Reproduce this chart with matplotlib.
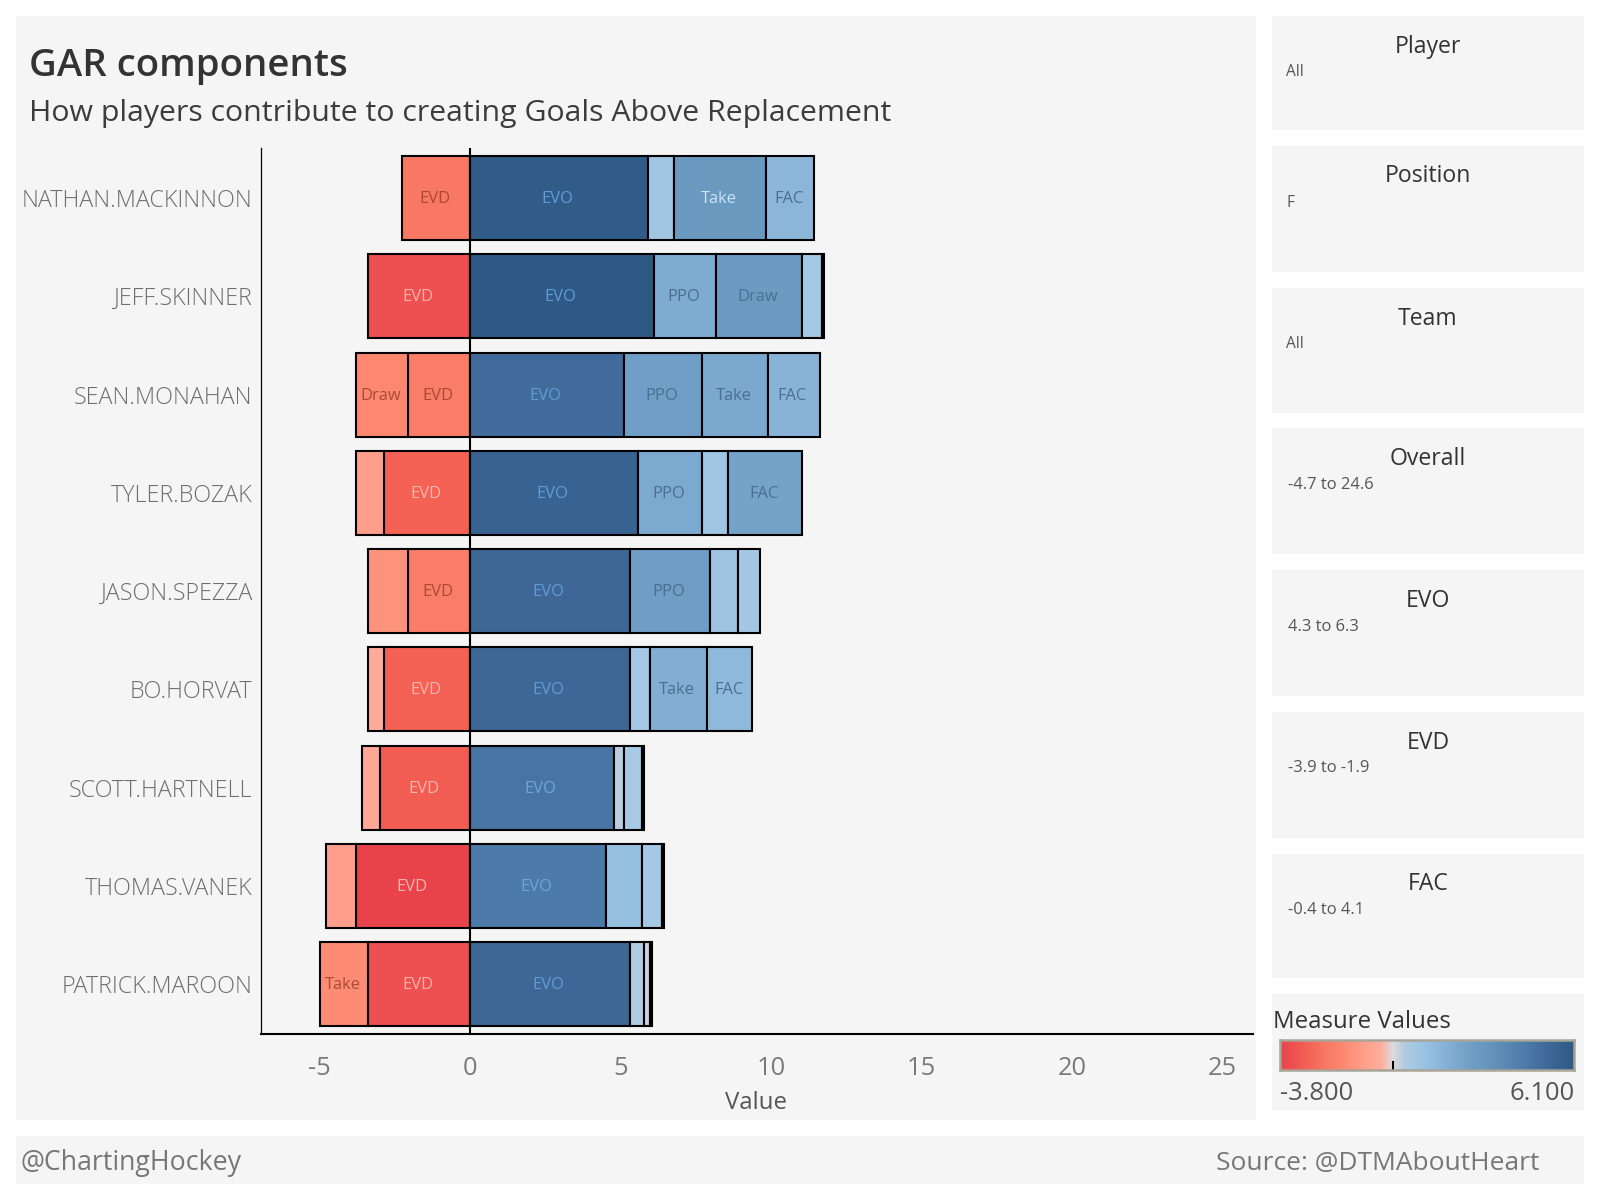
import numpy as np
import matplotlib
matplotlib.use("Agg")
import matplotlib.pyplot as plt
from matplotlib.colors import LinearSegmentedColormap, Normalize
from matplotlib.patches import Rectangle

# ======================
# DATA
# ======================
players = ["NATHAN.MACKINNON", "JEFF.SKINNER", "SEAN.MONAHAN", "TYLER.BOZAK", "JASON.SPEZZA",
           "BO.HORVAT", "SCOTT.HARTNELL", "THOMAS.VANEK", "PATRICK.MAROON"]

# segments stacked from zero outwards
neg_values = [[-2.26], [-3.39], [-2.06, -1.73], [-2.85, -0.94], [-2.06, -1.33],
              [-2.85, -0.54], [-2.99, -0.61], [-3.79, -1.00], [-3.38, -1.59]]
neg_labels = [["EVD"], ["EVD"], ["EVD", "Draw"], ["EVD", ""], ["EVD", ""],
              ["EVD", ""], ["EVD", ""], ["EVD", ""], ["EVD", "Take"]]

pos_values = [[5.91, 0.87, 3.05, 1.61],
              [6.10, 2.06, 2.86, 0.67, 0.06],
              [5.11, 2.59, 2.19, 1.73],
              [5.58, 2.12, 0.88, 2.44],
              [5.31, 2.66, 0.94, 0.73],
              [5.31, 0.66, 1.92, 1.48],
              [4.78, 0.33, 0.61, 0.06],
              [4.51, 1.21, 0.67, 0.06],
              [5.31, 0.47, 0.19, 0.07]]
pos_labels = [["EVO", "", "Take", "FAC"],
              ["EVO", "PPO", "Draw", "", ""],
              ["EVO", "PPO", "Take", "FAC"],
              ["EVO", "PPO", "", "FAC"],
              ["EVO", "PPO", "", ""],
              ["EVO", "", "Take", "FAC"],
              ["EVO", "", "", ""],
              ["EVO", "", "", ""],
              ["EVO", "", "", ""]]

x_ticks = [-5, 0, 5, 10, 15, 20, 25]

filters = ["Player", "Position", "Team", "Overall", "EVO", "EVD", "FAC"]
filter_values = ["All", "F", "All", "-4.7 to 24.6", "4.3 to 6.3", "-3.9 to -1.9", "-0.4 to 4.1"]

color_min = -3.8
color_max = 6.1
color_stops = [(-3.8, "#e8434a"), (-3.39, "#ee5050"), (-2.85, "#f46355"), (-2.26, "#f87965"),
               (-1.73, "#fe876f"), (-0.94, "#ffa08c"), (-0.4, "#ffae9f"), (0.0, "#dcdcdc"),
               (0.33, "#b8cde0"), (0.67, "#a5c8e4"), (1.21, "#96c0e0"), (1.92, "#82aed3"),
               (2.66, "#6e9ec5"), (3.05, "#6999bf"), (4.51, "#4c7aa9"), (5.31, "#3e6796"),
               (6.1, "#2e5985")]

# ======================
# STYLE
# ======================
W, H = 1598, 1198
PANEL = "#f5f5f5"
FONT = "Open Sans"
plt.rcParams["font.family"] = [FONT, "DejaVu Sans"]

norm = Normalize(color_min, color_max)
cmap = LinearSegmentedColormap.from_list(
    "gar", [(float(norm(v)), c) for v, c in color_stops])


def px(x0, y0, x1, y1):
    # pixel box (y from the top) to figure fractions
    return [x0 / W, 1 - y1 / H, (x1 - x0) / W, (y1 - y0) / H]


def fs(pixels):
    return pixels * 0.72


def label_color(name, value):
    if name == "EVO":
        return "#6ba5e0" if value < 4.9 else "#5f9bd8"
    if value < 0:
        return "#ffb3ab" if value < -2.5 else "#a84a36"
    if value > 2.95:
        return "#cfe4f5"
    return "#4a6f90"


fig = plt.figure(figsize=(W / 100, H / 100), dpi=100, facecolor="white")

# ======================
# PANELS
# ======================
bg = fig.add_axes([0, 0, 1, 1])
bg.set_xlim(0, W)
bg.set_ylim(H, 0)
bg.axis("off")
panel_boxes = [(16, 16, 1256, 1120), (1272, 16, 1584, 130), (1272, 146, 1584, 272),
               (1272, 288, 1584, 413), (1272, 428, 1584, 554), (1272, 570, 1584, 696),
               (1272, 712, 1584, 838), (1272, 854, 1584, 978), (1272, 994, 1584, 1110),
               (16, 1136, 1584, 1184)]
for x0, y0, x1, y1 in panel_boxes:
    bg.add_patch(Rectangle((x0, y0), x1 - x0, y1 - y0, fc=PANEL, ec="none"))

bg.text(29, 66, "GAR components", fontsize=fs(38.4), color="#333333", weight="semibold",
        va="center", ha="left")
bg.text(29, 113, "How players contribute to creating Goals Above Replacement", fontsize=fs(30.3),
        color="#3c3c3c", va="center", ha="left")

# filter cards
title_y = [47, 176, 319, 459, 601, 743, 884]
value_y = [72, 203, 344, 485, 627, 768, 910]
for name, val, ty, vy in zip(filters, filter_values, title_y, value_y):
    bg.text(1428, ty, name, fontsize=fs(23), color="#333333", ha="center", va="center")
    numeric = any(c.isdigit() for c in val)
    bg.text(1288 if numeric else 1286, vy, val, fontsize=fs(16.5 if numeric else 15.5),
            color="#555555", ha="left", va="center")

bg.text(1273, 1022, "Measure Values", fontsize=fs(24), color="#333333", ha="left", va="center")
bg.text(1280, 1094, "-3.800", fontsize=fs(25.5), color="#555555", ha="left", va="center")
bg.text(1575, 1094, "6.100", fontsize=fs(25.5), color="#555555", ha="right", va="center")

bg.text(21, 1163, "@ChartingHockey", fontsize=fs(26.7), color="#777777", ha="left", va="center")
bg.text(1539, 1163, "Source: @DTMAboutHeart", fontsize=fs(26.4), color="#777777", ha="right", va="center")

# ======================
# BARS
# ======================
ax = fig.add_axes(px(260.5, 148, 1252.5, 1034))
ax.patch.set_alpha(0)
ax.set_xlim(-6.96, 26.0)
ax.set_ylim(8.508, -0.51)


def draw_stack(row, values, labels):
    start = 0
    for value, name in zip(values, labels):
        ax.barh(row, value, left=start, height=0.855, color=cmap(norm(value)),
                edgecolor="black", linewidth=1.5, zorder=2)
        if name:
            ax.text(start + value / 2 - 0.04, row + 0.01, name, fontsize=fs(16.5), ha="center", va="center",
                    color=label_color(name, value), zorder=4)
        start += value


for row in range(len(players)):
    draw_stack(row, neg_values[row], neg_labels[row])
    draw_stack(row, pos_values[row], pos_labels[row])

ax.axvline(0, color="black", lw=1.5, zorder=3)

for side in ["top", "right"]:
    ax.spines[side].set_visible(False)
ax.spines["left"].set_linewidth(0.9)
ax.spines["bottom"].set_linewidth(1.5)

ax.set_yticks(range(len(players)))
ax.set_yticklabels(players, fontsize=fs(23.2), color="#6e6e6e", weight="light")
ax.set_xticks(x_ticks)
ax.set_xticklabels([str(t) for t in x_ticks], fontsize=fs(25.5), color="#7a7a7a")
ax.tick_params(axis="y", length=0, pad=6)
ax.tick_params(axis="x", length=0, pad=16)
bg.text(756, 1103, "Value", fontsize=fs(24), color="#555555", ha="center", va="center")

# ======================
# COLOUR LEGEND
# ======================
cax = fig.add_axes(px(1280, 1040, 1574, 1070))
cax.imshow(np.linspace(0, 1, 512).reshape(1, -1), cmap=cmap, aspect="auto",
           extent=[color_min, color_max, 0, 1])
cax.set_xticks([])
cax.set_yticks([])
for s in cax.spines.values():
    s.set_color("#a8a498")
    s.set_linewidth(1.8)
cax.plot([0, 0], [0, 0.28], color="black", lw=1.5, clip_on=False)
cax.set_xlim(color_min, color_max)
cax.set_ylim(0, 1)

fig.savefig("out.png", dpi=100)
